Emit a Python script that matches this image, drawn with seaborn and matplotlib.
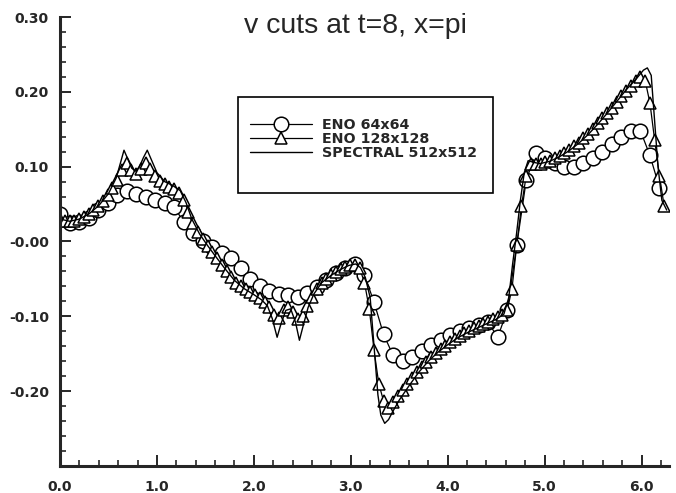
import numpy as np
import seaborn as sns
import matplotlib
matplotlib.use("Agg")
import matplotlib.pyplot as plt
from matplotlib.patches import Rectangle
from matplotlib.ticker import MultipleLocator

title = "v cuts at t=8, x=pi"

# ENO 64x64 values (circles), sampled on 64 points over [0, 2pi)
eno64_y = [0.037, 0.025, 0.026, 0.032, 0.042, 0.052, 0.062, 0.068,
           0.064, 0.059, 0.055, 0.052, 0.046, 0.026, 0.011, 0.000,
           -0.008, -0.015, -0.022, -0.036, -0.050, -0.059, -0.066, -0.070,
           -0.072, -0.074, -0.069, -0.061, -0.051, -0.042, -0.035, -0.030,
           -0.045, -0.081, -0.124, -0.152, -0.160, -0.155, -0.147, -0.138,
           -0.131, -0.125, -0.120, -0.116, -0.112, -0.108, -0.128, -0.092,
           -0.005, 0.082, 0.118, 0.112, 0.105, 0.100, 0.100, 0.105,
           0.112, 0.120, 0.130, 0.140, 0.148, 0.148, 0.115, 0.072]

# ENO 128x128 values (triangles), 128 points over [0, 2pi)
eno128_y = [0.030, 0.028, 0.027, 0.028, 0.030, 0.033, 0.037, 0.042,
            0.047, 0.054, 0.062, 0.071, 0.082, 0.096, 0.105, 0.096,
            0.090, 0.097, 0.105, 0.097, 0.088, 0.081, 0.077, 0.073,
            0.070, 0.065, 0.056, 0.040, 0.025, 0.013, 0.003, -0.006,
            -0.014, -0.022, -0.031, -0.040, -0.048, -0.055, -0.060, -0.064,
            -0.068, -0.072, -0.076, -0.081, -0.088, -0.098, -0.102, -0.092,
            -0.088, -0.094, -0.104, -0.100, -0.086, -0.074, -0.064, -0.056,
            -0.050, -0.045, -0.041, -0.037, -0.034, -0.032, -0.031, -0.036,
            -0.055, -0.090, -0.145, -0.190, -0.213, -0.222, -0.215, -0.206,
            -0.198, -0.190, -0.182, -0.175, -0.168, -0.161, -0.155, -0.149,
            -0.144, -0.139, -0.134, -0.130, -0.126, -0.122, -0.119, -0.116,
            -0.113, -0.110, -0.107, -0.104, -0.101, -0.098, -0.092, -0.063,
            -0.005, 0.048, 0.088, 0.104, 0.103, 0.104, 0.106, 0.108,
            0.111, 0.114, 0.118, 0.122, 0.127, 0.132, 0.138, 0.144,
            0.151, 0.158, 0.165, 0.172, 0.179, 0.187, 0.194, 0.201,
            0.208, 0.214, 0.220, 0.215, 0.185, 0.135, 0.088, 0.047]

spec_x = [0.00, 0.10, 0.20, 0.30, 0.40, 0.50, 0.58, 0.63, 0.66, 0.70,
          0.74, 0.78, 0.82, 0.86, 0.90, 0.94, 1.00, 1.08, 1.16, 1.24,
          1.30, 1.36, 1.44, 1.52, 1.60, 1.70, 1.80, 1.90, 2.00, 2.08,
          2.14, 2.19, 2.24, 2.28, 2.33, 2.38, 2.43, 2.47, 2.51, 2.56,
          2.62, 2.70, 2.80, 2.90, 2.98, 3.05, 3.10, 3.15, 3.20, 3.24,
          3.28, 3.31, 3.35, 3.39, 3.43, 3.50, 3.60, 3.70, 3.80, 3.90,
          4.00, 4.10, 4.20, 4.30, 4.40, 4.50, 4.58, 4.63, 4.67, 4.71,
          4.75, 4.79, 4.83, 4.88, 4.95, 5.05, 5.15, 5.25, 5.35, 5.45,
          5.55, 5.65, 5.75, 5.85, 5.95, 6.02, 6.06, 6.10, 6.13, 6.17,
          6.21, 6.26]
spec_y = [0.030, 0.027, 0.030, 0.037, 0.048, 0.064, 0.085, 0.108, 0.122, 0.110,
          0.098, 0.094, 0.100, 0.112, 0.122, 0.110, 0.092, 0.080, 0.075, 0.068,
          0.052, 0.030, 0.010, -0.005, -0.019, -0.036, -0.052, -0.063, -0.071, -0.078,
          -0.086, -0.103, -0.128, -0.110, -0.092, -0.090, -0.108, -0.132, -0.112, -0.088,
          -0.070, -0.055, -0.045, -0.037, -0.032, -0.030, -0.035, -0.048, -0.075, -0.140,
          -0.205, -0.232, -0.243, -0.238, -0.228, -0.212, -0.193, -0.175, -0.160, -0.148,
          -0.138, -0.129, -0.122, -0.116, -0.110, -0.104, -0.097, -0.075, -0.030, 0.010,
          0.055, 0.092, 0.108, 0.106, 0.104, 0.107, 0.113, 0.121, 0.131, 0.143,
          0.157, 0.172, 0.188, 0.204, 0.218, 0.229, 0.232, 0.222, 0.170, 0.100,
          0.055, 0.042]

x_ticks = [0, 1, 2, 3, 4, 5, 6]
x_labels = ["0.0", "1.0", "2.0", "3.0", "4.0", "5.0", "6.0"]
y_ticks = [-0.2, -0.1, 0.0, 0.1, 0.2, 0.3]
y_labels = ["-0.20", "-0.10", "-0.00", "0.10", "0.20", "0.30"]

x64 = np.linspace(0, 2 * np.pi, 64, endpoint=False)
x128 = np.linspace(0, 2 * np.pi, 128, endpoint=False)

sns.set_style("ticks")
plt.rcParams["font.family"] = ["DejaVu Sans"]

fig = plt.figure(figsize=(6.76, 4.93), dpi=100)
ax = fig.add_axes([0.0888, 0.0548, 0.9008, 0.9107])

sns.lineplot(x=x64, y=eno64_y, ax=ax, color="black", lw=0.9, marker="o",
             markersize=10.5, markerfacecolor="white", markeredgecolor="black",
             markeredgewidth=1.1, label="ENO 64x64")
sns.lineplot(x=x128, y=eno128_y, ax=ax, color="black", lw=0.9, marker="^",
             markersize=8.5, markerfacecolor="white", markeredgecolor="black",
             markeredgewidth=1.1, label="ENO 128x128")
sns.lineplot(x=spec_x, y=spec_y, ax=ax, color="black", lw=1.0,
             label="SPECTRAL 512x512")

ax.set_xlim(0, 2 * np.pi)
ax.set_ylim(-0.30, 0.30)
ax.set_xticks(x_ticks)
ax.set_xticklabels(x_labels)
ax.set_yticks(y_ticks)
ax.set_yticklabels(y_labels)
ax.xaxis.set_minor_locator(MultipleLocator(0.2))
ax.yaxis.set_minor_locator(MultipleLocator(0.02))
ax.tick_params(which="major", direction="in", length=8, width=1.4,
               labelsize=10, pad=8)
ax.tick_params(axis="x", which="major", pad=10)
ax.tick_params(which="minor", direction="in", length=4, width=1.2)
for lab in ax.get_xticklabels() + ax.get_yticklabels():
    lab.set_fontweight("bold")

for s in ["top", "right"]:
    ax.spines[s].set_visible(False)
for s in ["left", "bottom"]:
    ax.spines[s].set_linewidth(2.2)
ax.set_xlabel("")
ax.set_ylabel("")

ax.text(0.485, 0.964, title, transform=ax.transAxes, ha="center",
        va="baseline", fontsize=20.5, family="Liberation Sans")

ax.legend(loc="upper left", bbox_to_anchor=(0.312, 0.775), frameon=False,
          handlelength=4.3, handletextpad=0.7, labelspacing=0.0,
          borderpad=0, borderaxespad=0, prop={"weight": "bold", "size": 10.3})
ax.add_patch(Rectangle((0.292, 0.608), 0.419, 0.214, transform=ax.transAxes,
                       fill=False, lw=1.2, ec="black", clip_on=False))

fig.savefig("out.png", dpi=100)
